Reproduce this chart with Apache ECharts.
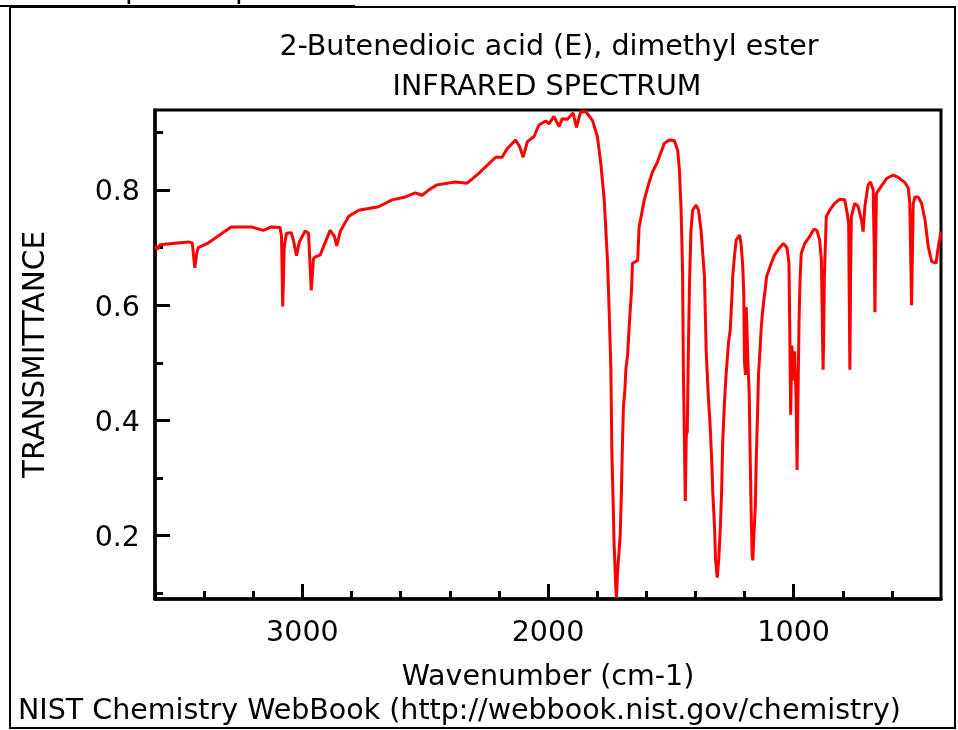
<!DOCTYPE html>
<html>
<head>
<meta charset="utf-8">
<title>2-Butenedioic acid (E), dimethyl ester - IR spectrum</title>
<script src="https://cdn.jsdelivr.net/npm/echarts@6/dist/echarts.min.js"></script>
<style>
    html, body { margin: 0; padding: 0; background: #fff; }
    #chart { width: 958px; height: 730px; }
</style>
</head>
<body>
<div id="chart"></div>
<script>
// spectrum (wavenumber in cm-1, transmittance)
const wavenumber = [
    3600, 3590, 3580, 3465, 3448, 3438, 3430, 3424, 3384, 3290,
    3208, 3159, 3127, 3091, 3085, 3080, 3074, 3065, 3045, 3035,
    3024, 3012, 2989, 2975, 2964, 2955, 2948, 2928, 2887, 2870,
    2860, 2846, 2812, 2771, 2690, 2635, 2581, 2540, 2513, 2486,
    2452, 2377, 2329, 2282, 2213, 2187, 2166, 2132, 2115, 2101,
    2084, 2057, 2037, 2009, 1996, 1976, 1955, 1942, 1921, 1898,
    1884, 1867, 1846, 1819, 1799, 1785, 1771, 1758, 1751, 1744,
    1740, 1735, 1731, 1724, 1721, 1717, 1706, 1701, 1697, 1693,
    1687, 1683, 1676, 1667, 1660, 1656, 1635, 1629, 1608, 1588,
    1574, 1554, 1527, 1506, 1486, 1472, 1465, 1458, 1452, 1449,
    1445, 1441, 1437, 1433, 1429, 1424, 1418, 1411, 1397, 1387,
    1377, 1370, 1363, 1356, 1347, 1340, 1333, 1329, 1322, 1318,
    1311, 1305, 1298, 1293, 1289, 1282, 1275, 1265, 1258, 1254,
    1250, 1248, 1241, 1234, 1220, 1214, 1207, 1203, 1200, 1196,
    1193, 1190, 1186, 1181, 1177, 1173, 1169, 1166, 1163, 1156,
    1152, 1147, 1143, 1136, 1132, 1127, 1122, 1116, 1110, 1091,
    1078, 1057, 1041, 1027, 1019, 1016, 1012, 1007, 1002, 996,
    990, 986, 982, 978, 974, 969, 955, 935, 918, 905,
    894, 887, 884, 882, 880, 877, 875, 867, 853, 833,
    812, 792, 782, 776, 771, 768, 765, 751, 738, 724,
    717, 710, 697, 687, 676, 672, 669, 666, 663, 649,
    622, 595, 574, 547, 533, 527, 520, 516, 513, 506,
    493, 479, 465, 452, 438, 420, 411, 400
]
const transmittance = [
    0.702, 0.697, 0.705, 0.710, 0.708, 0.665, 0.690, 0.700, 0.708, 0.736,
    0.736, 0.730, 0.736, 0.735, 0.720, 0.598, 0.700, 0.725, 0.726, 0.710,
    0.686, 0.710, 0.729, 0.725, 0.626, 0.680, 0.684, 0.687, 0.730, 0.720,
    0.703, 0.728, 0.754, 0.765, 0.771, 0.783, 0.788, 0.795, 0.791, 0.800,
    0.809, 0.814, 0.812, 0.829, 0.857, 0.857, 0.872, 0.887, 0.875, 0.857,
    0.884, 0.893, 0.913, 0.920, 0.915, 0.928, 0.910, 0.924, 0.923, 0.934,
    0.909, 0.936, 0.936, 0.921, 0.893, 0.846, 0.783, 0.679, 0.590, 0.488,
    0.345, 0.262, 0.187, 0.110, 0.092, 0.137, 0.200, 0.279, 0.357, 0.423,
    0.453, 0.488, 0.514, 0.580, 0.626, 0.673, 0.678, 0.736, 0.783, 0.814,
    0.832, 0.849, 0.881, 0.887, 0.886, 0.869, 0.835, 0.765, 0.656, 0.490,
    0.375, 0.260, 0.375, 0.380, 0.508, 0.635, 0.730, 0.765, 0.774, 0.765,
    0.730, 0.690, 0.650, 0.520, 0.440, 0.392, 0.326, 0.274, 0.215, 0.158,
    0.127, 0.158, 0.218, 0.279, 0.360, 0.427, 0.479, 0.536, 0.557, 0.592,
    0.626, 0.650, 0.684, 0.713, 0.722, 0.707, 0.667, 0.620, 0.502, 0.479,
    0.597, 0.560, 0.500, 0.450, 0.340, 0.245, 0.166, 0.157, 0.190, 0.250,
    0.335, 0.410, 0.479, 0.528, 0.560, 0.586, 0.606, 0.626, 0.650, 0.673,
    0.687, 0.700, 0.707, 0.700, 0.673, 0.571, 0.410, 0.530, 0.470, 0.520,
    0.440, 0.314, 0.450, 0.570, 0.643, 0.690, 0.707, 0.719, 0.732, 0.730,
    0.713, 0.678, 0.600, 0.534, 0.488, 0.560, 0.650, 0.754, 0.765, 0.777,
    0.784, 0.783, 0.760, 0.742, 0.488, 0.650, 0.754, 0.777, 0.772, 0.748,
    0.728, 0.771, 0.809, 0.814, 0.800, 0.700, 0.588, 0.700, 0.794, 0.803,
    0.820, 0.826, 0.822, 0.813, 0.803, 0.777, 0.600, 0.700, 0.777, 0.788,
    0.788, 0.777, 0.748, 0.702, 0.676, 0.673, 0.702, 0.728
]

const xMajorTicks = [1000, 2000, 3000]
const xMinorTicks = [600, 800, 1200, 1400, 1600, 1800, 2200, 2400, 2600, 2800, 3200, 3400, 3600]
const yMajorTicks = [0.2, 0.4, 0.6, 0.8]
const yMinorTicks = [0.1, 0.3, 0.5, 0.7, 0.9]

const font = 'DejaVu Sans'
const textStyle = { fontFamily: font, fontSize: 28.5, color: '#000', fontWeight: 'normal' }

const xRange = { min: 400, max: 3600 }
const yRange = { min: 0.09, max: 0.939 }

const chart = echarts.init(document.getElementById('chart'))

chart.setOption({
    animation: false,
    backgroundColor: '#fff',
    title: [{
        text: '2-Butenedioic acid (E), dimethyl ester',
        left: 549,
        top: 33,
        padding: 0,
        textAlign: 'center',
        textStyle: textStyle
    }, {
        text: 'INFRARED SPECTRUM',
        left: 547,
        top: 73,
        padding: 0,
        textAlign: 'center',
        textStyle: textStyle
    }],
    grid: {
        left: 155,
        right: 17,
        top: 110,
        bottom: 131,
        show: true,
        borderColor: '#000',
        borderWidth: 3,
        backgroundColor: 'transparent'
    },
    xAxis: [{
        type: 'value',
        inverse: true,
        min: xRange.min,
        max: xRange.max,
        name: 'Wavenumber (cm-1)',
        nameLocation: 'middle',
        nameGap: 64,
        nameTextStyle: textStyle,
        axisLine: { lineStyle: { color: '#000', width: 3.5 } },
        axisTick: {
            inside: true,
            length: 15,
            customValues: xMajorTicks,
            lineStyle: { color: '#000', width: 3 }
        },
        axisLabel: {
            customValues: xMajorTicks,
            margin: 20,
            fontFamily: font,
            fontSize: 28.5,
            color: '#000',
            formatter: v => String(v)
        },
        splitLine: { show: false }
    }, {
        type: 'value',
        inverse: true,
        position: 'bottom',
        min: xRange.min,
        max: xRange.max,
        axisLine: { show: false },
        axisTick: {
            inside: true,
            length: 8,
            customValues: xMinorTicks,
            lineStyle: { color: '#000', width: 3 }
        },
        axisLabel: { show: false },
        splitLine: { show: false }
    }],
    yAxis: [{
        type: 'value',
        min: yRange.min,
        max: yRange.max,
        name: 'TRANSMITTANCE',
        nameLocation: 'middle',
        nameGap: 104,
        nameTextStyle: Object.assign({}, textStyle, { fontSize: 29.5 }),
        axisLine: { lineStyle: { color: '#000', width: 3.5 } },
        axisTick: {
            inside: true,
            length: 15,
            customValues: yMajorTicks,
            lineStyle: { color: '#000', width: 3 }
        },
        axisLabel: {
            customValues: yMajorTicks,
            margin: 15,
            fontFamily: font,
            fontSize: 28.5,
            color: '#000',
            formatter: v => '{v|' + v.toFixed(1) + '}',
            rich: { v: { fontFamily: font, fontSize: 28.5, color: '#000', padding: [6, 0, 0, 0] } }
        },
        splitLine: { show: false }
    }, {
        type: 'value',
        position: 'left',
        min: yRange.min,
        max: yRange.max,
        axisLine: { show: false },
        axisTick: {
            inside: true,
            length: 8,
            customValues: yMinorTicks,
            lineStyle: { color: '#000', width: 3 }
        },
        axisLabel: { show: false },
        splitLine: { show: false }
    }],
    series: [{
        type: 'line',
        xAxisIndex: 0,
        yAxisIndex: 0,
        showSymbol: false,
        smooth: false,
        lineStyle: { color: '#ff0000', width: 3 },
        data: wavenumber.map((w, i) => [w, transmittance[i]])
    }],
    graphic: [{
        type: 'rect',
        silent: true,
        shape: { x: 10, y: 7, width: 945, height: 721 },
        style: { fill: 'none', stroke: '#000', lineWidth: 2 }
    }, {
        type: 'text',
        x: 355,
        y: 5,
        style: {
            text: 'condensed phase spectrum',
            font: '28.5px "DejaVu Sans"',
            fill: '#000',
            align: 'right',
            verticalAlign: 'bottom'
        }
    }, {
        type: 'line',
        shape: { x1: 0, y1: 6, x2: 355, y2: 6 },
        style: { stroke: '#000', lineWidth: 2 }
    }, {
        type: 'text',
        x: 18,
        y: 712,
        style: {
            text: 'NIST Chemistry WebBook (http://webbook.nist.gov/chemistry)',
            font: '28.5px "DejaVu Sans"',
            fill: '#000',
            align: 'left',
            verticalAlign: 'middle'
        }
    }]
})
</script>
</body>
</html>
